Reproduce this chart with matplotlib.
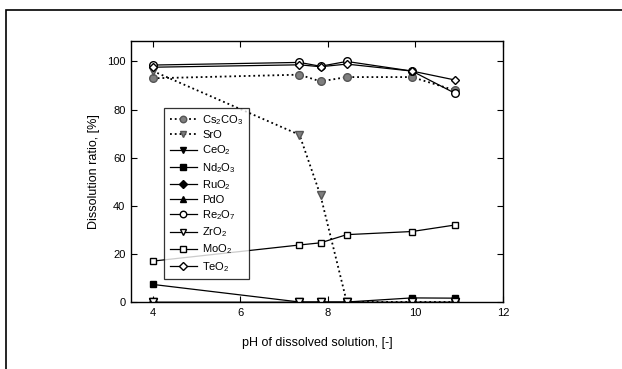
import matplotlib
matplotlib.use('Agg')
import matplotlib.pyplot as plt
from matplotlib.patches import Rectangle

plt.rcParams['font.family'] = ['Liberation Sans', 'DejaVu Sans']
plt.rcParams['mathtext.fontset'] = 'custom'
plt.rcParams['mathtext.rm'] = 'Liberation Sans'
plt.rcParams['mathtext.default'] = 'regular'

# pH values of the dissolved solutions
ph = [4.0, 7.35, 7.83, 8.43, 9.92, 10.9]

# dissolution ratio [%] per compound
cs2co3 = [93.0, 94.5, 91.7, 93.5, 93.5, 88.0]
sro = [96.0, 69.5, 44.3, 0.0, 0.0, 0.0]
ceo2 = [0.0, 0.0, 0.0, 0.0, 0.0, 0.0]
nd2o3 = [7.3, 0.0, 0.0, 0.0, 1.7, 1.6]
ruo2 = [0.0, 0.0, 0.0, 0.0, 0.0, 0.0]
pdo = [0.0, 0.0, 0.0, 0.0, 0.0, 0.0]
re2o7 = [98.5, 99.6, 98.0, 100.0, 96.0, 86.8]
zro2 = [0.0, 0.0, 0.0, 0.0, 0.0, 0.0]
moo2 = [17.0, 23.7, 24.6, 28.0, 29.3, 32.0]
teo2 = [97.6, 98.6, 97.8, 98.9, 96.0, 92.3]

labels = ['Cs$_2$CO$_3$', 'SrO', 'CeO$_2$', 'Nd$_2$O$_3$', 'RuO$_2$', 'PdO',
          'Re$_2$O$_7$', 'ZrO$_2$', 'MoO$_2$', 'TeO$_2$']

fig = plt.figure(figsize=(6.22, 3.69), dpi=100)
# outer frame, only left and top edges fall inside the picture
fig.patches.append(Rectangle((6 / 622, -0.5), 2.0, 1.5 - 9.5 / 369, transform=fig.transFigure,
                             fill=False, edgecolor='black', linewidth=1.2))

ax = fig.add_axes([131 / 622, 1 - 302 / 369, 372 / 622, 261 / 369])

gray = '#7f7f7f'
ms = 5.5
ax.plot(ph, cs2co3, ':', color='black', lw=1.3, marker='o', ms=ms, mfc=gray, mec='#555555', label=labels[0])
ax.plot(ph, sro, ':', color='black', lw=1.3, marker='v', ms=ms, mfc=gray, mec='#555555', label=labels[1])
ax.plot(ph, ceo2, '-', color='black', lw=0.9, marker='v', ms=ms, mfc='black', mec='black', label=labels[2])
ax.plot(ph, nd2o3, '-', color='black', lw=0.9, marker='s', ms=ms - 1, mfc='black', mec='black', label=labels[3])
ax.plot(ph, ruo2, '-', color='black', lw=0.9, marker='D', ms=ms - 1, mfc='black', mec='black', label=labels[4])
ax.plot(ph, pdo, '-', color='black', lw=0.9, marker='^', ms=ms, mfc='black', mec='black', label=labels[5])
ax.plot(ph, re2o7, '-', color='black', lw=0.9, marker='o', ms=ms, mfc='white', mec='black', label=labels[6])
ax.plot(ph, zro2, '-', color='black', lw=0.9, marker='v', ms=ms, mfc='white', mec='black', label=labels[7])
ax.plot(ph, moo2, '-', color='black', lw=0.9, marker='s', ms=ms - 1, mfc='white', mec='black', label=labels[8])
ax.plot(ph, teo2, '-', color='black', lw=0.9, marker='D', ms=ms - 1, mfc='white', mec='black', label=labels[9])

ax.set_xlim(3.5, 12)
ax.set_ylim(0, 108.5)
ax.set_xticks([4, 6, 8, 10, 12])
ax.set_yticks([0, 20, 40, 60, 80, 100])
ax.tick_params(direction='in', top=True, right=True, labelsize=8, length=4, pad=4)
for s in ax.spines.values():
    s.set_linewidth(1.0)
ax.set_xlabel('pH of dissolved solution, [-]', fontsize=9, labelpad=14)
ax.set_ylabel('Dissolution ratio, [%]', fontsize=9, labelpad=5)

leg = ax.legend(loc='upper left', bbox_to_anchor=(0.09, 0.745), fontsize=8, frameon=True,
                fancybox=False, edgecolor='black', borderaxespad=0, handlelength=2.4,
                labelspacing=0.3, borderpad=0.5, handletextpad=0.5, markerscale=0.85)
leg.get_frame().set_linewidth(0.9)

fig.savefig('out.png', dpi=100)
